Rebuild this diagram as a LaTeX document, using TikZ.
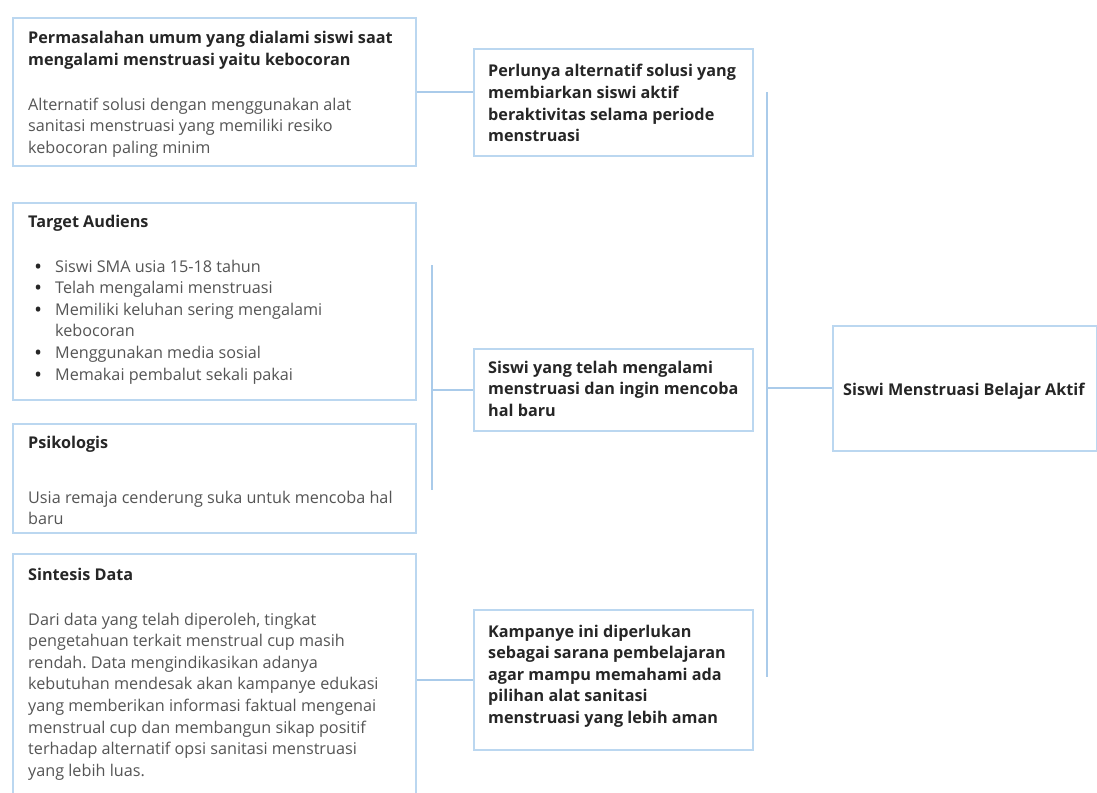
\documentclass[tikz,border=0pt]{standalone}
\usepackage{fontspec}
\setmainfont{Open Sans}
\frenchspacing
\definecolor{boxcol}{HTML}{BBD7F0}
\definecolor{linecol}{HTML}{AACBEA}
\definecolor{headcol}{HTML}{262626}
\definecolor{bodycol}{HTML}{555555}
\newcommand{\tb}[1]{\parbox[t]{420pt}{\raggedright\frenchspacing #1}}
\newcommand{\bul}{\makebox[20pt][l]{\textcolor{headcol}{\bfseries •}}}
\begin{document}
\begin{tikzpicture}[x=1pt,y=-1pt,
  box/.style={draw=boxcol, line width=1.6pt, fill=white, anchor=north west, inner sep=0pt},
  headtxt/.style={anchor=base west, inner sep=0pt, text=headcol, font=\fontsize{16.2}{21.6}\selectfont\bfseries},
  bodytxt/.style={anchor=base west, inner sep=0pt, text=bodycol, font=\fontsize{16.2}{21.6}\selectfont},
  link/.style={draw=linecol, line width=2.2pt}]
\useasboundingbox (0,0) rectangle (1097,792);
\clip (0,0) rectangle (1097,792);
\fill[white] (0,0) rectangle (1097,792);

% boxes
\node[box, minimum width=403pt, minimum height=148pt] (B1) at (12,17) {};
\node[box, minimum width=279pt, minimum height=107pt] (B2) at (473,48) {};
\node[box, minimum width=403pt, minimum height=197pt] (B3) at (12,202) {};
\node[box, minimum width=403pt, minimum height=109pt] (B4) at (12,423) {};
\node[box, minimum width=403pt, minimum height=260pt] (B7) at (12,553) {};
\node[box, minimum width=279pt, minimum height=82pt] (B5) at (473,348) {};
\node[box, minimum width=279pt, minimum height=140pt] (B8) at (473,609) {};
\node[box, minimum width=264pt, minimum height=125pt] (B6) at (832,325) {};

% connectors
\coordinate (mt) at (432,265);
\coordinate (mb) at (432,490);
\coordinate (rt) at (767,92);
\coordinate (rb) at (767,677);
\draw[link] (B1.east) -- (B1.east -| B2.west);
\draw[link] (mt) -- (mb);
\draw[link] (B5.west -| mt) -- (B5.west);
\draw[link] (B8.west -| B7.east) -- (B8.west);
\draw[link] (rt) -- (rb);
\draw[link] (B6.west -| rt) -- (B6.west);

% texts
\node[headtxt] (H1) at (28,44) {\tb{Permasalahan umum yang dialami siswi saat\\mengalami menstruasi yaitu kebocoran}};
\node[bodytxt] (T1) at (28,110) {\tb{Alternatif solusi dengan menggunakan alat\\sanitasi menstruasi yang memiliki resiko\\kebocoran paling minim}};
\node[headtxt] (H2) at (488,77) {\tb{Perlunya alternatif solusi yang\\membiarkan siswi aktif\\beraktivitas selama periode\\menstruasi}};
\node[headtxt] (H3) at (28,227) {\tb{Target Audiens}};
\node[bodytxt] (T3) at (35,272) {\tb{\bul Siswi SMA usia 15-18 tahun\\\bul Telah mengalami menstruasi\\\bul Memiliki keluhan sering mengalami\\\hspace*{20pt}kebocoran\\\bul Menggunakan media sosial\\\bul Memakai pembalut sekali pakai}};
\node[headtxt] (H4) at (28,448) {\tb{Psikologis}};
\node[bodytxt] (T4) at (28,503) {\tb{Usia remaja cenderung suka untuk mencoba hal\\baru}};
\node[headtxt] (H7) at (28,580) {\tb{Sintesis Data}};
\node[bodytxt] (T7) at (28,625) {\tb{Dari data yang telah diperoleh, tingkat\\pengetahuan terkait menstrual cup masih\\rendah. Data mengindikasikan adanya\\kebutuhan mendesak akan kampanye edukasi\\yang memberikan informasi faktual mengenai\\menstrual cup dan membangun sikap positif\\terhadap alternatif opsi sanitasi menstruasi\\yang lebih luas.}};
\node[headtxt] (H5) at (488,373) {\tb{Siswi yang telah mengalami\\menstruasi dan ingin mencoba\\hal baru}};
\node[headtxt] (H8) at (488,637) {\tb{Kampanye ini diperlukan\\sebagai sarana pembelajaran\\agar mampu memahami ada\\pilihan alat sanitasi\\menstruasi yang lebih aman}};
\node[headtxt] (H6) at (843,395) {\tb{Siswi Menstruasi Belajar Aktif}};
\end{tikzpicture}
\end{document}
